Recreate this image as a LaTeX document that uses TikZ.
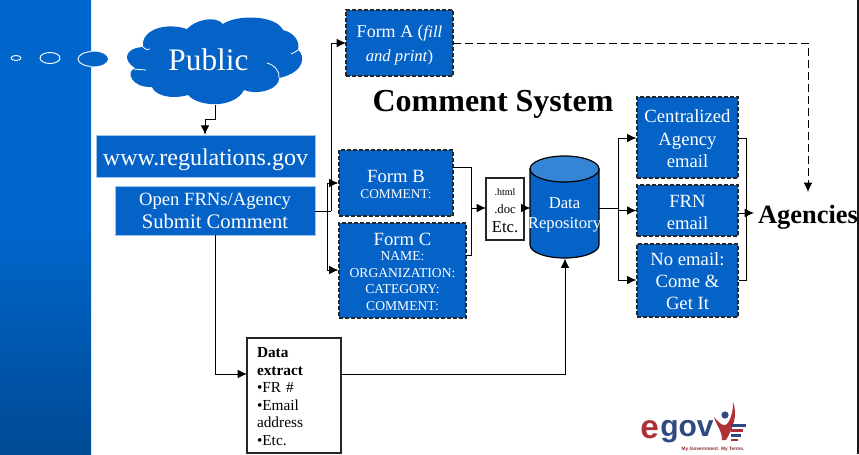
\documentclass[tikz,border=0pt]{standalone}
\usepackage{fontspec}
\setmainfont{Liberation Serif}
\newfontfamily\logofont{Liberation Sans}
\usetikzlibrary{arrows.meta}
\definecolor{bluefill}{HTML}{0563C8}
\definecolor{bluetop}{HTML}{3585D6}
\definecolor{bandtop}{HTML}{0066CC}
\definecolor{bandbot}{HTML}{004A94}
\definecolor{lightedge}{HTML}{9CC4EE}
\definecolor{logored}{HTML}{B03038}
\definecolor{logoblue}{HTML}{2E4A80}
\newcommand{\fs}[1]{\fontsize{#1}{#1}\selectfont}
% name, style, x1, y1, x2, y2: an empty box
\newcommand{\bx}[6]{\node[#2,minimum width={(#5-#3)*0.75pt},minimum height={(#6-#4)*0.75pt}] (#1) at ({(#3+#5)/2},{(#4+#6)/2}) {};}
\tikzset{
  x=0.75pt,y=-0.75pt,
  solidbox/.style={draw=lightedge,line width=0.5pt,fill=bluefill,inner sep=0pt},
  dashbox/.style={draw=black!85,dash pattern=on 3pt off 1.5pt,line width=0.9pt,fill=bluefill,inner sep=0pt},
  plainbox/.style={draw=black!85,line width=0.8pt,fill=white,inner sep=0pt},
  conn/.style={draw=black,line width=0.75pt},
  arr/.style={conn,-{Latex[length=7pt,width=6.5pt]}},
  lab/.style={text=white,align=center,inner sep=0pt},
  txt/.style={align=center,inner sep=0pt},
}
\begin{document}
\begin{tikzpicture}
\useasboundingbox (0,0) rectangle (859,454);
\fill[white] (0,0) rectangle (859,454);
\fill[black!90] (857,0) rectangle (859,454);
% band
\shade[top color=bandtop,bottom color=bandbot,middle color=bandtop] (0,0) rectangle (91,454);
\draw[white,line width=0.7pt] (16,58) ellipse [x radius=5,y radius=2.5];
\draw[white,line width=0.7pt] (50,58) ellipse [x radius=10,y radius=5.5];
\fill[bluefill] (93,59) ellipse [x radius=15,y radius=7.5];
\begin{scope}
\clip (0,0) rectangle (91,454);
\draw[white,line width=0.7pt] (93,59) ellipse [x radius=15,y radius=7.5];
\end{scope}
% cloud
\fill[bluefill]
  (143,42) .. controls (145,30) and (165,22) .. (187,29)
  .. controls (195,20) and (215,15) .. (223,24)
  .. controls (235,15) and (275,14) .. (283,30)
  .. controls (295,33) and (300,42) .. (298,50)
  .. controls (305,55) and (306,72) .. (279,78)
  .. controls (280,88) and (260,96) .. (244,90)
  .. controls (235,108) and (200,108) .. (188,95)
  .. controls (170,100) and (155,95) .. (152,87)
  .. controls (132,88) and (125,72) .. (135,68)
  .. controls (122,60) and (125,48) .. (143,47) -- cycle;
\draw[white,line width=0.6pt] (146,70) -- (133,69);
\draw[white,line width=0.6pt] (143,47) .. controls (146,50) and (148,50) .. (150,49);
\draw[white,line width=0.6pt] (267,63) .. controls (275,65) and (280,72) .. (279,78);
\draw[white,line width=0.6pt] (298,50) .. controls (296,52) and (293,53) .. (291,54);
\node[lab,font=\fs{23.5}] (public) at (208.5,60) {Public};
% boxes
\bx{www}{solidbox}{96}{135}{315}{177}
\node[lab,font=\fs{18}] (wwwt) at (205.5,160) {www.regulations.gov};
\bx{submit}{solidbox}{115}{186}{315}{235}
\node[lab,font=\fs{14}] (submitt) at (215,211) {Open FRNs/Agency\\[3.75pt]\fs{15.5}Submit Comment};
\bx{formA}{dashbox}{346}{10}{453}{76}
\node[lab,font=\fs{13.5}] (formAt) at (399.5,45) {Form A (\textit{\fs{12.5}fill}\\[4.5pt]\fs{12.5}\textit{and print})};
\bx{formB}{dashbox}{339}{150}{453}{216}
\node[lab,font=\fs{14}] (formBt) at (396,184.5) {Form B\\[-2.25pt]\fs{10}COMMENT:};
\bx{formC}{dashbox}{339}{223}{466}{318}
\node[lab,font=\fs{10.2}] (formCt) at (402.5,271.5) {\fs{14}Form C\\[1.75pt]NAME:\\[2.1pt]ORGANIZATION:\\[2.1pt]CATEGORY:\\[2.1pt]COMMENT:};
\bx{etc}{plainbox}{486}{178}{524}{240}
\node[txt,font=\fs{12.5}] (etct) at (505,210.5) {\fs{7.5}.html\\[1pt]\fs{9.5}.doc\\[2.25pt]Etc.};
% cylinder
\node[minimum width=51.75pt,minimum height=76.5pt,inner sep=0pt] (repo) at (564.5,207) {};
\draw[black,line width=0.9pt,fill=bluefill] (530,169) -- (530,245) arc [start angle=180,end angle=360,x radius=34.5,y radius=-13] -- (599,169) -- cycle;
\draw[black,line width=0.9pt,fill=bluetop] (564.5,169) ellipse [x radius=34.5,y radius=13];
\node[lab,font=\fs{12.5}] (repolabel) at (564.5,214.5) {Data\\[2.5pt]Repository};
\bx{central}{dashbox}{637}{97}{738}{178}
\node[lab,font=\fs{14}] (centralt) at (687.5,139) {Centralized\\[2.9pt]Agency\\[2.9pt]email};
\bx{frn}{dashbox}{637}{185}{738}{236}
\node[lab,font=\fs{14}] (frnt) at (687.5,212) {FRN\\[2.5pt]email};
\bx{noemail}{dashbox}{637}{244}{738}{317}
\node[lab,font=\fs{14}] (noemailt) at (687.5,281) {No email:\\[2.5pt]Come \&\\[2.5pt]Get It};
\bx{extract}{plainbox}{247}{338}{341}{453}
\node[txt,text width=55.5pt,align=left,font=\fs{11.5}] (extractt) at (294,396.5) {\textbf{Data}\\[1.6pt]\textbf{extract}\\[1.6pt]•FR \#\\[1.6pt]•Email\\[1.6pt]address\\[1.6pt]•Etc.};
\node[txt,font=\fs{24}\bfseries] (title) at (493,104.5) {Comment System};
\node[txt,font=\fs{19.8}\bfseries] (agencies) at (808,217.5) {Agencies};
% junctions
\coordinate (pubout) at (215,105);
\coordinate (p1) at (215,119);
\coordinate (p2) at (205,119);
\coordinate (busup) at (331,211);
\coordinate (buslo) at (327,211);
\coordinate (j1) at (331,43);
\coordinate (aIn) at (346,43);
\coordinate (j2) at (327,183);
\coordinate (j3) at (327,270);
\coordinate (bOut1) at (471,167);
\coordinate (bOut0) at (453,167);
\coordinate (cOut0) at (466,255);
\coordinate (cOut1) at (471,255);
\coordinate (mid) at (471,208);
\coordinate (etcIn) at (486,208);
\coordinate (etcOut) at (524,208);
\coordinate (repoIn) at (530.5,208);
\coordinate (repoOut) at (599,208);
\coordinate (bus) at (618,208);
\coordinate (b1) at (618,138);
\coordinate (b3) at (618,280);
\coordinate (b2) at (618,210.5);
\coordinate (r1) at (746,138);
\coordinate (r3) at (746,280);
\coordinate (r2) at (754,213);
\coordinate (aOut) at (453,43);
\coordinate (dc) at (808,43);
\coordinate (dd) at (808,192);
\coordinate (sOut) at (215,235);
\coordinate (sTurn) at (215,374);
\coordinate (exIn) at (247,374);
\coordinate (exOut) at (341,374);
\coordinate (rTurn) at (565,374);
\coordinate (repoS) at (565,258.5);
% connectors
\draw[arr] (pubout) -- (p1) -- (p2) -- (www.north -| p2);
\draw[conn] (submit.east |- busup) -- (busup);
\draw[arr] (busup) -- (j1) -- (aIn);
\draw[arr] (buslo) -- (j2) -- (formB.west |- j2);
\draw[arr] (buslo) -- (j3) -- (formC.west |- j3);
\draw[conn] (bOut0) -- (bOut1) -- (mid);
\draw[conn] (cOut0) -- (cOut1) -- (mid);
\draw[arr] (mid) -- (etcIn);
\draw[arr] (etcOut) -- (repoIn);
\draw[conn] (repoOut) -- (bus);
\draw[arr] (bus) -- (b1) -- (central.west |- b1);
\draw[arr] (bus) -- (b2) -- (frn.west |- b2);
\draw[arr] (bus) -- (b3) -- (noemail.west |- b3);
\draw[conn] (central.east |- r1) -- (r1) -- (r3) -- (noemail.east |- r3);
\draw[arr] (frn.east |- r2) -- (r2);
\draw[arr,dash pattern=on 6pt off 3pt] (aOut) -- (dc) -- (dd);
\draw[arr] (sOut) -- (sTurn) -- (exIn);
\draw[arr] (exOut) -- (rTurn) -- (repoS);
% logo
\node[inner sep=0pt,text=logored,font=\logofont\fs{25}\bfseries,anchor=base west] (logoe) at (640,438) {e};
\node[inner sep=0pt,text=logoblue,font=\logofont\fs{22.5}\bfseries,anchor=base west] (logogov) at (660,436) {gov};
\fill[logoblue] (725,415) circle [radius=3.6];
\fill[logored] (733,402) .. controls (738,415) and (733,428) .. (726,440) -- (722,440) .. controls (722,430) and (716,425) .. (714,417) .. controls (720,424) and (724,427) .. (727,424) .. controls (732,418) and (733,410) .. (733,402) -- cycle;
\foreach \yy/\cc/\xx in {424/logoblue/746,429/logored/743,434/logoblue/741,438.5/logored/738}
  \fill[\cc] (731,\yy) rectangle (\xx,\yy+2.8);
\node[inner sep=0pt,text=logored!80!black,font=\logofont\fs{3.6}\bfseries] (tagline) at (713,449) {My Government. My Terms.};
\end{tikzpicture}
\end{document}
